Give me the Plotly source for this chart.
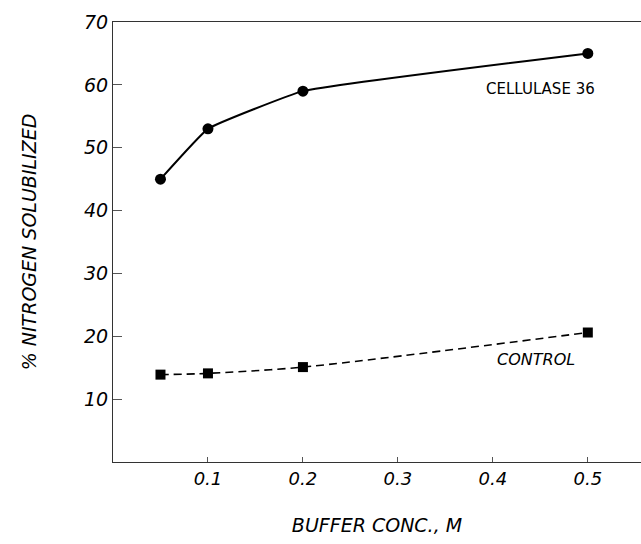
import plotly.graph_objects as go

conc = [0.05, 0.1, 0.2, 0.5]
cellulase = [45.0, 53.0, 59.0, 65.0]
control = [13.9, 14.1, 15.1, 20.6]
x_ticks = [0.1, 0.2, 0.3, 0.4, 0.5]
x_tick_text = ["0.1", "0.2", "0.3", "0.4", "0.5"]
y_ticks = [10, 20, 30, 40, 50, 60, 70]

FONT = "DejaVu Sans"

fig = go.Figure()
fig.add_trace(go.Scatter(
    x=conc, y=cellulase, mode="lines+markers",
    line=dict(color="black", width=2, shape="spline", smoothing=0.3),
    marker=dict(symbol="circle", size=11, color="black"),
    showlegend=False))
fig.add_trace(go.Scatter(
    x=conc, y=control, mode="lines+markers",
    line=dict(color="black", width=1.6, dash="8px,5px", shape="spline", smoothing=0.8),
    marker=dict(symbol="square", size=10, color="black"),
    showlegend=False))

fig.add_annotation(x=0.45, y=59.3, xref="x", yref="y", text="CELLULASE 36",
                   showarrow=False, font=dict(family=FONT, size=15, color="black"))
fig.add_annotation(x=0.4454, y=16.25, xref="x", yref="y", text="<i>CONTROL</i>",
                   showarrow=False, font=dict(family=FONT, size=16, color="black"))

fig.update_layout(
    width=641, height=544,
    margin=dict(l=113, r=0, t=22, b=82),
    paper_bgcolor="white", plot_bgcolor="white",
    font=dict(family=FONT, color="black"),
    xaxis=dict(
        range=[0, 0.556], tickvals=x_ticks, ticktext=["<i>%s</i>" % t for t in x_tick_text],
        showgrid=False, zeroline=False, showline=True, linecolor="#333", linewidth=1.2,
        mirror=True, ticks="inside", ticklen=5, tickcolor="#555",
        tickfont=dict(family=FONT, size=18, color="black"),
        title=dict(text="<i>BUFFER CONC., M</i>", font=dict(family=FONT, size=19, color="black"),
                   standoff=30),
    ),
    yaxis=dict(
        range=[0, 70], tickvals=y_ticks, ticktext=["<i>%d</i>" % v for v in y_ticks],
        showgrid=False, zeroline=False, showline=True, linecolor="#333", linewidth=1.2,
        mirror=False, ticks="inside", ticklen=9, tickcolor="#555",
        tickfont=dict(family=FONT, size=19, color="black"),
        title=dict(text="<i>% NITROGEN SOLUBILIZED</i>", font=dict(family=FONT, size=19, color="black"),
                   standoff=42),
    ),
)

fig.write_html("out.html", config={"displayModeBar": False},
               post_script="document.body.style.margin='0';document.body.style.overflow='hidden';")
